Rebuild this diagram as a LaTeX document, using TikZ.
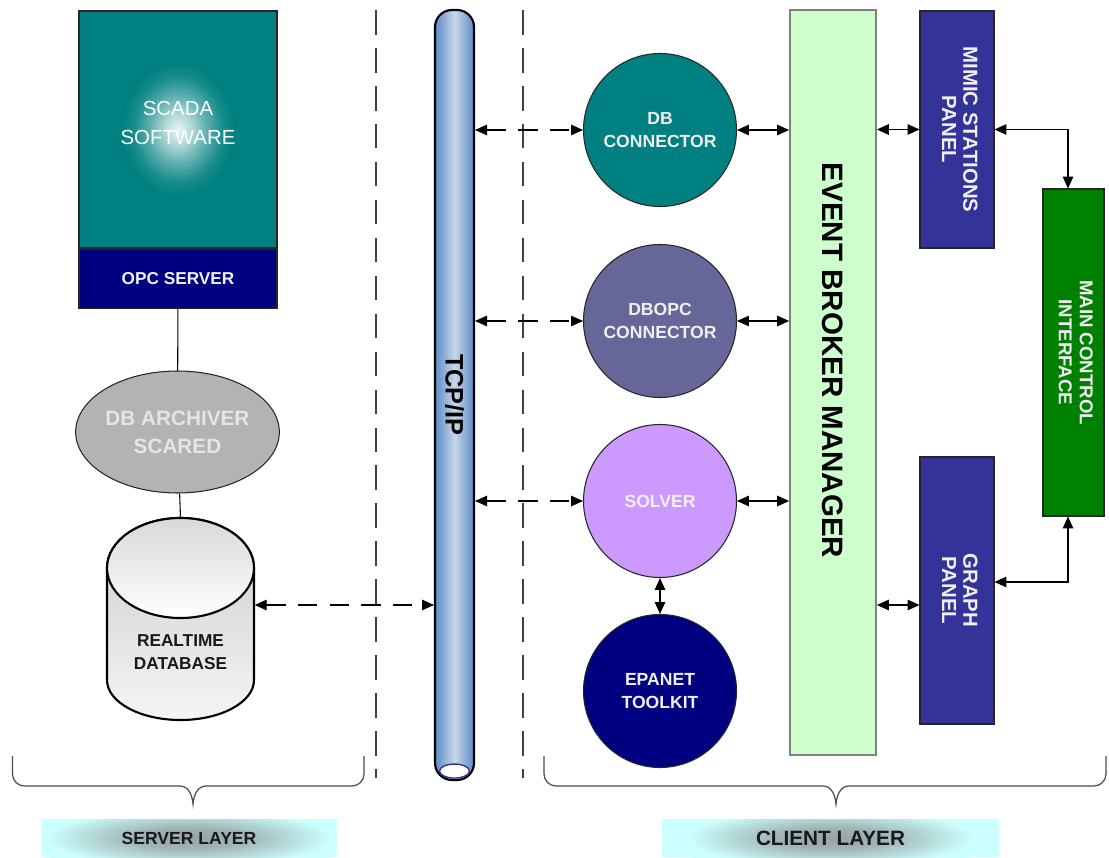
\documentclass[tikz,border=0pt]{standalone}
\usepackage{fontspec}
\setmainfont{Liberation Sans}
\usepackage{graphicx}
\usepackage{tikz}
\definecolor{scTeal}{HTML}{008080}
\definecolor{scNavy}{HTML}{000080}
\definecolor{scGray}{HTML}{B3B3B3}
\definecolor{scSlate}{HTML}{666699}
\definecolor{scLilac}{HTML}{CC99FF}
\definecolor{scMint}{HTML}{CCFFCC}
\definecolor{scIndigo}{HTML}{333399}
\definecolor{scGreen}{HTML}{008000}
\definecolor{scCyan}{HTML}{CCFFFF}
\definecolor{scPipe}{HTML}{5B8CC8}
\definecolor{scPipeLight}{HTML}{C9D7E8}
\usetikzlibrary{arrows.meta,positioning,shapes.geometric}
\pgfdeclareradialshading{scglow}{\pgfpoint{0bp}{0bp}}{%
  color(0bp)=(white!92!scTeal); color(3bp)=(white!72!scTeal);
  color(7bp)=(white!38!scTeal); color(11bp)=(white!10!scTeal);
  color(14bp)=(scTeal); color(50bp)=(scTeal)}
\pgfdeclareradialshading{scshadow}{\pgfpoint{0bp}{0bp}}{%
  color(0bp)=(gray!72!scCyan); color(8bp)=(gray!58!scCyan);
  color(15bp)=(gray!28!scCyan); color(21bp)=(scCyan); color(50bp)=(scCyan)}

\begin{document}
\begin{tikzpicture}[
  font=\bfseries,
  >={Triangle[length=3.4pt,width=3pt]},
  box/.style={draw=black!85,line width=0.3pt,inner sep=1pt,align=center,text=white!94!black},
  bubble/.style={circle,box,minimum size=1.53cm,font=\fontsize{5}{6.4}\selectfont\bfseries},
  panel/.style={box,fill=scIndigo,minimum width=0.74cm,font=\fontsize{5.8}{6.1}\selectfont\bfseries},
  layer/.style={minimum height=0.38cm,inner sep=0pt,fill=scCyan,text=black!90,
    path picture={\shade[shading=scshadow]
      (path picture bounding box.center) ellipse [x radius=1.7cm,y radius=0.34cm];}},
  conn/.style={line width=0.3pt,black},
  link/.style={conn,dash pattern=on 5.5pt off 3.5pt},
  divider/.style={line width=0.3pt,black!75,dash pattern=on 7pt off 3.8pt},
  brace/.style={line width=0.35pt,black!70}
]
\useasboundingbox (0,0) rectangle (11.09,8.57);

\draw[divider] (3.76,8.47) -- (3.76,0.79);
\draw[divider] (5.23,8.47) -- (5.23,0.79);

\node[box,fill=scTeal,minimum width=1.98cm,minimum height=2.37cm,text=white,
  font=\fontsize{5.8}{8.2}\selectfont,
  path picture={\shade[shading=scglow]
    ([yshift=0.5mm]path picture bounding box.center) circle (1.0cm);}]
  (scada) at (1.78,7.275) {SCADA\\SOFTWARE\rule[-1.4mm]{0pt}{0pt}};
\node[box,fill=scNavy,minimum width=1.98cm,minimum height=0.59cm,below=0pt of scada,
  font=\fontsize{4.9}{6}\selectfont\bfseries] (opc) {OPC SERVER};
\node[ellipse,box,fill=scGray,minimum width=1.98cm,minimum height=1.22cm,inner sep=0pt,
  text=white!90!black,font=\fontsize{5.9}{8}\selectfont\bfseries]
  (arch) at (1.775,4.25) {DB ARCHIVER\\SCARED};

\shade[top color=gray!40,bottom color=white!92!gray,draw=black,line width=0.6pt]
  (1.07,2.89) -- (1.07,1.77) arc[start angle=180,end angle=360,x radius=0.735,y radius=0.4]
  -- (2.54,2.89) arc[start angle=0,end angle=180,x radius=0.735,y radius=0.5] -- cycle;
\shade[top color=gray!30,bottom color=white,draw=black,line width=0.6pt]
  (1.805,2.89) ellipse [x radius=0.735,y radius=0.5];
\coordinate (dbtop) at (1.805,3.39);
\node[align=center,minimum width=1.47cm,inner sep=0pt,text=black!90,
  font=\fontsize{4.9}{6.5}\selectfont\bfseries] (db) at (1.805,2.05) {REALTIME\\DATABASE};

\node[box,minimum width=0.39cm,minimum height=7.7cm,inner sep=0pt,rounded corners=0.17cm,
  draw=black,line width=0.6pt,left color=scPipe,right color=scPipe,middle color=scPipeLight,
  text=black,font=\fontsize{7.2}{8}\selectfont\bfseries]
  (pipe) at (4.545,4.62) {\rotatebox{-90}{TCP/IP}};
\draw[draw=scIndigo,line width=0.4pt,fill=white] ([yshift=1mm]pipe.south) ellipse [x radius=0.15,y radius=0.07];

\node[bubble,fill=scTeal] (dbc) at (6.60,7.27) {DB\\CONNECTOR};
\node[bubble,fill=scSlate] (dbopc) at (6.60,5.36) {DBOPC\\CONNECTOR};
\node[bubble,fill=scLilac] (solver) at (6.60,3.56) {SOLVER};
\node[bubble,fill=scNavy] (epanet) at (6.60,1.66) {EPANET\\TOOLKIT};

\node[box,fill=scMint,draw=black!50,line width=0.5pt,minimum width=0.86cm,minimum height=7.45cm,
  text=black,font=\fontsize{8.4}{9}\selectfont\bfseries]
  (ebm) at (8.33,4.745) {\rotatebox{-90}{EVENT BROKER MANAGER\hspace{4.4mm}}};
\node[panel,minimum height=2.37cm] (mimic) at (9.57,7.275)
  {\rotatebox{-90}{\begin{tabular}{@{}c@{}}MIMIC STATIONS\\PANEL\end{tabular}}};
\node[panel,minimum height=2.67cm] (graph) at (9.57,2.665)
  {\rotatebox{-90}{\begin{tabular}{@{}c@{}}GRAPH\\PANEL\end{tabular}}};
\node[box,fill=scGreen,minimum width=0.61cm,minimum height=3.27cm,
  font=\fontsize{5.3}{6}\selectfont\bfseries] (main) at (10.735,5.045)
  {\rotatebox{-90}{\begin{tabular}{@{}c@{}}MAIN CONTROL\\INTERFACE\end{tabular}}};

\draw[conn] (opc) -- (arch);
\draw[conn] (arch) -- (dbtop);
\draw[link,<->] ([yshift=4.7mm]db.east) -- ([yshift=4.7mm]pipe.west |- db.east);
\draw[link,<->] (pipe.east |- dbc) -- (dbc);
\draw[link,<->] (pipe.east |- dbopc) -- (dbopc);
\draw[link,<->] (pipe.east |- solver) -- (solver);
\draw[conn,<->] (dbc) -- (ebm.west |- dbc);
\draw[conn,<->] (dbopc) -- (ebm.west |- dbopc);
\draw[conn,<->] (solver) -- (ebm.west |- solver);
\draw[conn,<->] (solver) -- (epanet);
\draw[conn,<->] (ebm.east |- mimic) -- (mimic);
\draw[conn,<->] ([yshift=-1.45mm]graph.west) -- ([yshift=-1.45mm]ebm.east |- graph.west);
\draw[conn,<->] (mimic.east) -| ([xshift=-0.55mm]main.north);
\draw[conn,<->] ([yshift=0.85mm]graph.east) -| ([xshift=-0.55mm]main.south);

\draw[brace] (0.125,1.01) -- (0.125,0.83) arc[start angle=180,end angle=270,radius=0.12]
  -- (1.80,0.71) to[out=0,in=95] (1.93,0.53) to[out=85,in=180] (2.06,0.71)
  -- (3.52,0.71) arc[start angle=270,end angle=360,radius=0.12] -- (3.64,1.01);
\draw[brace] (5.44,1.01) -- (5.44,0.83) arc[start angle=180,end angle=270,radius=0.12]
  -- (8.23,0.71) to[out=0,in=95] (8.36,0.53) to[out=85,in=180] (8.49,0.71)
  -- (10.94,0.71) arc[start angle=270,end angle=360,radius=0.12] -- (11.06,1.01);

\node[layer,minimum width=2.96cm,font=\fontsize{5}{6}\selectfont\bfseries] (server) at (1.89,0.19) {SERVER LAYER};
\node[layer,minimum width=3.37cm,font=\fontsize{5.9}{7}\selectfont\bfseries] (client) at (8.305,0.19) {CLIENT LAYER};
\end{tikzpicture}
\end{document}
